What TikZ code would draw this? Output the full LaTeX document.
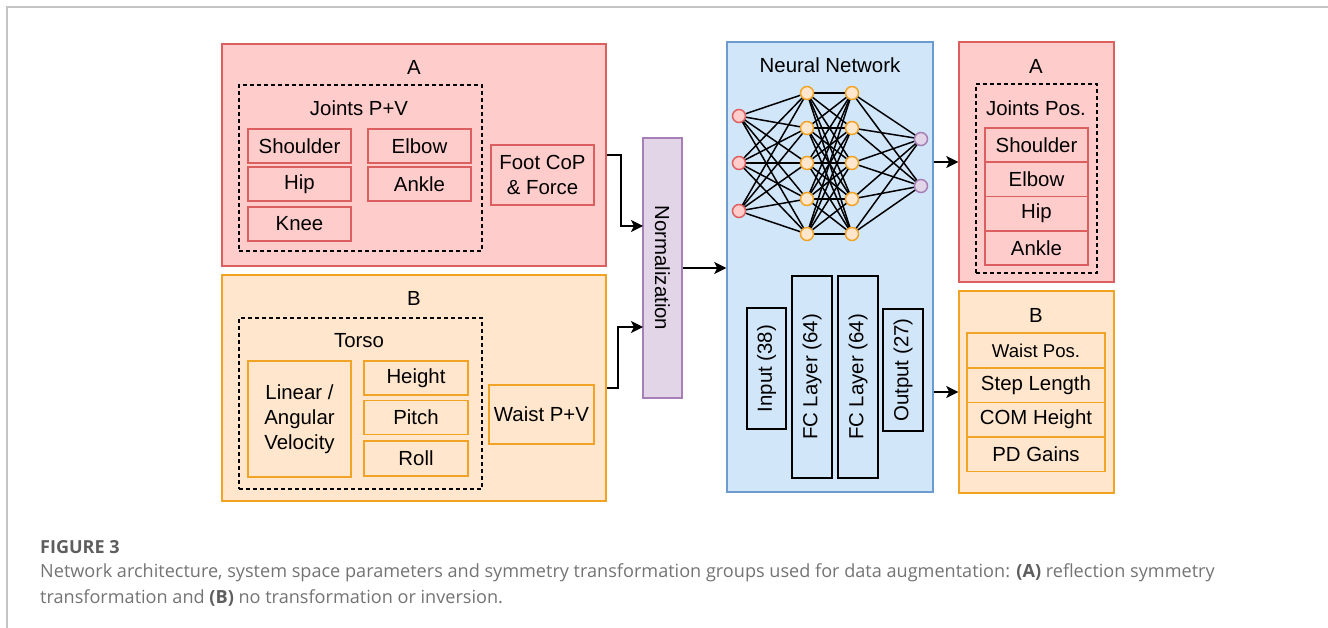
\documentclass[tikz,border=0pt]{standalone}
\usepackage{fontspec}
\setmainfont{Liberation Sans}
\newfontfamily\capfont{Open Sans}
\usetikzlibrary{arrows.meta}

\definecolor{redfill}{HTML}{FFCCCC}
\definecolor{redline}{HTML}{DC5F5F}
\definecolor{orgfill}{HTML}{FFE6CC}
\definecolor{orgline}{HTML}{F0A325}
\definecolor{bluefill}{HTML}{D2E6FA}
\definecolor{blueline}{HTML}{6C9BD0}
\definecolor{purfill}{HTML}{E1D5E7}
\definecolor{purline}{HTML}{A57FB5}
\definecolor{framegrey}{HTML}{C4C4C4}
\definecolor{capgrey}{HTML}{737373}
\definecolor{capdark}{HTML}{5E5E5E}

\pgfdeclarelayer{panel}
\pgfdeclarelayer{wires}
\pgfsetlayers{panel,wires,main}

\tikzset{
  lbl/.style={font=\fontsize{20.4}{23}\selectfont, inner sep=0pt},
  box/.style={draw, line width=1.5pt, inner sep=0pt, align=center,
    font=\fontsize{20.4}{25}\selectfont},
  redbox/.style={box, draw=redline, fill=redfill},
  orgbox/.style={box, draw=orgline, fill=orgfill},
  groupbox/.style={draw=black, line width=1.5pt, dash pattern=on 4pt off 3pt, inner sep=0pt},
  layerbox/.style={box, draw=black},
  neuron/.style={circle, line width=1.5pt, minimum size=13pt, inner sep=0pt},
  nin/.style={neuron, draw=redline, fill=redfill},
  nhid/.style={neuron, draw=orgline, fill=orgfill},
  nout/.style={neuron, draw=purline, fill=purfill},
  wire/.style={line width=1.5pt, black},
  arr/.style={line width=1.5pt, -{Stealth[length=12pt, width=12pt, inset=3pt]}},
}

\begin{document}
\begin{tikzpicture}[x=1pt, y=-1pt]
\useasboundingbox (0,0) rectangle (1328,628);
\draw[framegrey, line width=1.6pt] (7,628) -- (7,7) -- (1328,7);

% ---------- input group A ----------
\node[redbox, minimum width=384pt, minimum height=222pt] (A) at (414,155) {};
\node[lbl] (Alab) at (414,67) {A};
\node[groupbox, minimum width=243pt, minimum height=166pt] (jpv) at (360.5,168) {};
\node[lbl] (jpvlab) at (359,108) {Joints P+V};
\node[redbox, minimum width=103pt, minimum height=34pt] (shoulder) at (299.5,146) {Shoulder};
\node[redbox, minimum width=103pt, minimum height=34pt] (hip) at (299.5,184) {Hip};
\node[redbox, minimum width=103pt, minimum height=34pt] (knee) at (299.5,224) {Knee};
\node[redbox, minimum width=103pt, minimum height=34pt] (elbow) at (419.5,146) {Elbow};
\node[redbox, minimum width=103pt, minimum height=34pt] (ankle) at (419.5,184) {Ankle};
\node[redbox, minimum width=103pt, minimum height=60pt] (foot) at (542.5,175) {Foot CoP\\\& Force};

% ---------- input group B ----------
\node[orgbox, minimum width=384pt, minimum height=226pt] (B) at (414,388) {};
\node[lbl] (Blab) at (414,298) {B};
\node[groupbox, minimum width=243pt, minimum height=171pt] (torso) at (360.5,403.5) {};
\node[lbl] (torsolab) at (359,341) {Torso};
\node[orgbox, minimum width=103pt, minimum height=116pt] (vel) at (299.5,419) {Linear /\\Angular\\Velocity};
\node[orgbox, minimum width=104pt, minimum height=34pt] (height) at (416,378) {Height};
\node[orgbox, minimum width=104pt, minimum height=34pt] (pitch) at (416,417.5) {Pitch};
\node[orgbox, minimum width=104pt, minimum height=35pt] (roll) at (416,458.5) {Roll};
\node[orgbox, minimum width=105pt, minimum height=59pt] (waist) at (541.5,414.5) {Waist P+V};

% ---------- normalization (rotated: its north side faces right) ----------
\node[box, draw=purline, fill=purfill, rotate=-90, minimum width=260pt, minimum height=39pt] (norm) at (662.5,268) {Normalization};
\coordinate (nin1) at (643,226);
\coordinate (nin2) at (643,327);
\draw[arr] (A.east) -- ++(14,0) |- (nin1);
\draw[arr] (B.east) -- ++(11,0) |- (nin2);

% ---------- neural network ----------
\begin{pgfonlayer}{panel}
\node[box, draw=blueline, fill=bluefill, minimum width=206pt, minimum height=450pt] (nn) at (830,267) {};
\end{pgfonlayer}
\node[lbl] (nnlab) at (830,65) {Neural Network};
\draw[arr] (norm.north) -- (norm.north -| nn.west);

\foreach \i/\y in {1/116,2/163,3/211} \node[nin] (i\i) at (739,\y) {};
\foreach \i/\y in {1/93,2/128,3/163,4/199,5/234} {
  \node[nhid] (h\i) at (807,\y) {};
  \node[nhid] (g\i) at (852,\y) {};
}
\foreach \i/\y in {1/139,2/186} \node[nout] (o\i) at (921,\y) {};
\begin{pgfonlayer}{wires}
\foreach \a in {1,2,3} \foreach \b in {1,...,5} \draw[wire] (i\a.center) -- (h\b.center);
\foreach \a in {1,...,5} \foreach \b in {1,...,5} \draw[wire] (h\a.center) -- (g\b.center);
\foreach \a in {1,...,5} \foreach \b in {1,2} \draw[wire] (g\a.center) -- (o\b.center);
\end{pgfonlayer}

\node[layerbox, rotate=90, minimum width=121pt, minimum height=39pt] (linput) at (766.5,368.5) {Input (38)};
\node[layerbox, rotate=90, minimum width=202pt, minimum height=40pt] (fc1) at (812,377) {FC Layer (64)};
\node[layerbox, rotate=90, minimum width=202pt, minimum height=40pt] (fc2) at (858,377) {FC Layer (64)};
\node[layerbox, rotate=90, minimum width=122pt, minimum height=40pt] (loutput) at (903,370) {Output (27)};

% ---------- output group A ----------
\node[redbox, minimum width=155pt, minimum height=240pt] (RA) at (1036.5,162) {};
\node[lbl] (RAlab) at (1036,66) {A};
\node[groupbox, minimum width=121pt, minimum height=189pt] (jpos) at (1036.5,178.5) {};
\node[lbl] (jposlab) at (1036,108) {Joints Pos.};
\node[redbox, minimum width=103pt, minimum height=34.25pt] (rs) at (1036.5,145.1) {Shoulder};
\node[redbox, minimum width=103pt, minimum height=34.25pt] (re) at (1036.5,179.4) {Elbow};
\node[redbox, minimum width=103pt, minimum height=34.25pt] (rh) at (1036.5,213.6) {Hip};
\node[redbox, minimum width=103pt, minimum height=34.25pt] (rk) at (1036.5,247.9) {Ankle};

% ---------- output group B ----------
\node[orgbox, minimum width=155pt, minimum height=202pt] (RB) at (1036.5,392) {};
\node[lbl] (RBlab) at (1036,315) {B};
\node[orgbox, minimum width=138pt, minimum height=34.5pt, font=\fontsize{18.6}{22}\selectfont] (wpos) at (1036,350.5) {Waist Pos.};
\node[orgbox, minimum width=138pt, minimum height=34.5pt] (step) at (1036,385) {Step Length};
\node[orgbox, minimum width=138pt, minimum height=34.5pt] (com) at (1036,419.5) {COM Height};
\node[orgbox, minimum width=138pt, minimum height=34.5pt] (pd) at (1036,454) {PD Gains};

\draw[arr] (nn.east |- RA.west) -- (RA.west);
\draw[arr] (nn.east |- RB.west) -- (RB.west);

% ---------- caption ----------
\node[anchor=base west, inner sep=0pt, text=capdark, font=\capfont\bfseries\fontsize{18}{22}\selectfont] (figno) at (40,553) {FIGURE 3};
\node[anchor=base west, inner sep=0pt, text=capgrey, font=\capfont\fontsize{18.1}{26}\selectfont] (cap1) at (40,577)
  {Network architecture, system space parameters and symmetry transformation groups used for data augmentation: {\bfseries\color{capdark}(A)} reflection symmetry};
\node[anchor=base west, inner sep=0pt, text=capgrey, font=\capfont\fontsize{18.1}{26}\selectfont] (cap2) at (40,603)
  {transformation and {\bfseries\color{capdark}(B)} no transformation or inversion.};
\end{tikzpicture}
\end{document}
